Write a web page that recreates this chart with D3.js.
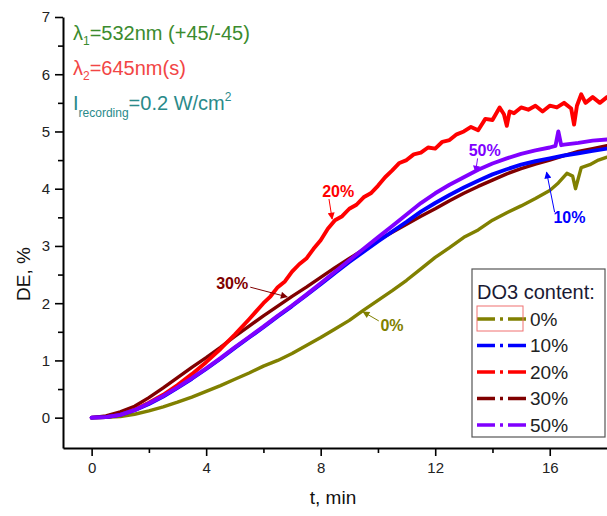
<!DOCTYPE html>
<html><head><meta charset="utf-8">
<script src="https://cdn.jsdelivr.net/npm/d3@7"></script>
<style>body{margin:0;background:#fff}svg{display:block;font-family:"Liberation Sans",Arial,sans-serif}</style>
</head><body><svg width="607" height="516"></svg>
<script>
// ---- data (t in min, DE in %) ----
const t0 = [0,0.5,1,1.5,2,2.5,3,3.5,4,4.5,5,5.5,6,6.5,7,7.5,8,8.5,9,9.5,10,10.5,11,11.5,12,12.5,13,13.5,14,14.5,15,15.5,16,16.3,16.6,16.8,16.9,17.1,17.4,17.7,18];
const de0 = [0,0.005,0.02,0.06,0.12,0.19,0.27,0.36,0.46,0.56,0.67,0.78,0.9,1.0,1.12,1.26,1.4,1.55,1.7,1.88,2.05,2.22,2.4,2.6,2.8,2.97,3.15,3.28,3.45,3.58,3.7,3.83,3.97,4.1,4.27,4.22,4.0,4.37,4.42,4.5,4.55];

const t10 = [0,0.5,1,1.5,2,2.5,3,3.5,4,4.5,5,5.5,6,6.5,7,7.5,8,8.5,9,9.5,10,10.5,11,11.5,12,12.5,13,13.5,14,14.5,15,15.5,16,16.5,17,17.5,18];
const de10 = [0,0.01,0.05,0.13,0.24,0.37,0.52,0.68,0.85,1.03,1.22,1.4,1.58,1.77,1.95,2.14,2.33,2.53,2.72,2.9,3.08,3.25,3.42,3.6,3.75,3.89,4.02,4.14,4.25,4.34,4.42,4.48,4.53,4.58,4.62,4.66,4.7];

const t20 = [0,0.5,1,1.5,2,2.5,3,3.5,4,4.5,5,5.5,6,6.25,6.5,6.75,7,7.25,7.5,7.75,8,8.25,8.5,8.75,9,9.25,9.5,9.75,10,10.25,10.5,10.75,11,11.25,11.5,11.75,12,12.25,12.5,12.75,13,13.25,13.5,13.75,14,14.25,14.4,14.5,14.6,14.75,15,15.25,15.5,15.75,16,16.25,16.5,16.75,16.85,16.95,17.1,17.25,17.5,17.75,18];
const de20 = [0,0.01,0.05,0.14,0.26,0.4,0.57,0.76,0.97,1.2,1.45,1.72,2.0,2.12,2.28,2.38,2.55,2.68,2.78,2.95,3.1,3.3,3.45,3.52,3.65,3.72,3.85,3.92,4.05,4.2,4.32,4.45,4.5,4.6,4.63,4.72,4.7,4.82,4.85,4.95,5.0,5.08,5.02,5.22,5.2,5.42,5.3,5.1,5.35,5.32,5.42,5.38,5.45,5.35,5.45,5.42,5.5,5.4,5.12,5.45,5.65,5.5,5.6,5.5,5.6];

const t30 = [0,0.5,1,1.5,2,2.5,3,3.5,4,4.5,5,5.5,6,6.5,7,7.5,8,8.5,9,9.5,10,10.5,11,11.5,12,12.5,13,13.5,14,14.5,15,15.5,16,16.5,17,17.5,18];
const de30 = [0,0.03,0.1,0.2,0.35,0.52,0.7,0.88,1.05,1.23,1.42,1.6,1.78,1.95,2.12,2.28,2.45,2.62,2.78,2.94,3.1,3.24,3.38,3.52,3.65,3.79,3.92,4.04,4.15,4.26,4.35,4.43,4.5,4.58,4.65,4.7,4.75];

const t50 = [0,0.5,1,1.5,2,2.5,3,3.5,4,4.5,5,5.5,6,6.5,7,7.5,8,8.5,9,9.5,10,10.5,11,11.5,12,12.5,13,13.5,14,14.5,15,15.5,16,16.2,16.3,16.4,16.5,17,17.5,18];
const de50 = [0,0.01,0.05,0.13,0.25,0.38,0.53,0.69,0.86,1.04,1.23,1.41,1.59,1.78,1.96,2.15,2.35,2.55,2.75,2.95,3.15,3.35,3.55,3.75,3.92,4.07,4.2,4.33,4.44,4.53,4.61,4.67,4.72,4.75,5.0,4.76,4.77,4.8,4.84,4.86];

const seriesNames = ["0%","10%","20%","30%","50%"];
const seriesColors = ["#808000","#0000ff","#ff0000","#800000","#8000ff"];
const xTicks = [0,4,8,12,16];
const xMinor = [2,6,10,14];
const yTicks = [0,1,2,3,4,5,6,7];
const yMinor = [0.5,1.5,2.5,3.5,4.5,5.5,6.5];

const series = [
  {name:"0%", t:t0, v:de0},
  {name:"10%", t:t10, v:de10},
  {name:"20%", t:t20, v:de20},
  {name:"30%", t:t30, v:de30},
  {name:"50%", t:t50, v:de50}
];
const drawOrder = ["0%","30%","20%","10%","50%"];

// annotations in data coords: label position, arrow start, arrow tip
const annots = [
  {text:"20%", color:"#ff0000", lt:8.61, lv:3.96, a:[8.29,3.82], b:[8.4,3.47]},
  {text:"30%", color:"#800000", lt:4.91, lv:2.35, a:[5.54,2.28], b:[6.83,2.11]},
  {text:"0%",  color:"#808000", lt:10.49, lv:1.62, a:[10.03,1.69], b:[9.48,1.85]},
  {text:"50%", color:"#8000ff", lt:13.73, lv:4.67, a:[13.48,4.53], b:[13.41,4.29]},
  {text:"10%", color:"#0000ff", lt:16.69, lv:3.5, a:[16.17,3.59], b:[15.89,4.29]}
];

const svg = d3.select("svg");
const x = d3.scaleLinear().domain([-1,18]).range([63,607]);
const y = d3.scaleLinear().domain([-0.53,7]).range([448,17]);

const colorOf = d3.scaleOrdinal().domain(seriesNames).range(seriesColors);

// defs
const defs = svg.append("defs");
defs.append("clipPath").attr("id","clip").append("rect")
  .attr("x",63).attr("y",0).attr("width",560).attr("height",448);
annots.forEach((a,i)=>{
  defs.append("marker").attr("id","ar"+i).attr("viewBox","0 0 10 10")
    .attr("refX",9).attr("refY",5).attr("markerWidth",9).attr("markerHeight",7)
    .attr("markerUnits","userSpaceOnUse").attr("orient","auto")
    .append("path").attr("d","M0,0L10,5L0,10z").attr("fill",a.color);
});

// curves
const line = d3.line().x(d=>x(d[0])).y(d=>y(d[1])).curve(d3.curveLinear);
const g = svg.append("g").attr("clip-path","url(#clip)");
drawOrder.forEach(n=>{
  const s = series.find(d=>d.name===n);
  const pts = s.t.map((tt,i)=>[tt,s.v[i]]);
  g.append("path").datum(pts).attr("d",line)
    .attr("fill","none").attr("stroke",colorOf(n))
    .attr("stroke-width", (n==="10%"||n==="50%"||n==="20%")?3.9:3.4).attr("stroke-linejoin","round").attr("stroke-linecap","round");
});

// axes
svg.append("g").attr("transform","translate(0,448)")
  .call(d3.axisBottom(x).tickValues(xTicks).tickSize(8).tickSizeOuter(0).tickPadding(6).tickFormat(d3.format("d")));
svg.append("g").attr("transform","translate(0,448)")
  .call(d3.axisBottom(x).tickValues(xMinor).tickSize(5).tickSizeOuter(0).tickFormat(""))
  .select(".domain").remove();
svg.append("g").attr("transform","translate(63,0)")
  .call(d3.axisLeft(y).tickValues(yTicks).tickSize(8).tickSizeOuter(0).tickPadding(5).tickFormat(d3.format("d")));
svg.append("g").attr("transform","translate(63,0)")
  .call(d3.axisLeft(y).tickValues(yMinor).tickSize(5).tickSizeOuter(0).tickFormat(""))
  .select(".domain").remove();
svg.selectAll(".domain").attr("stroke","#000").attr("stroke-width",2);
svg.selectAll(".tick line").attr("stroke","#000").attr("stroke-width",1.6);
svg.selectAll(".tick text").attr("font-size",15).attr("fill","#222").attr("font-family","'Liberation Sans',Arial,sans-serif");

// axis titles
svg.append("text").attr("x",333).attr("y",504).attr("text-anchor","middle")
  .attr("font-size",19).attr("fill","#111").text("t, min");
svg.append("text").attr("transform","translate(30,274) rotate(-90)").attr("text-anchor","middle")
  .attr("font-size",19).attr("fill","#111").text("DE, %");

// top-left info text
const info = svg.append("g").attr("font-size",20);
const l1 = info.append("text").attr("x",73).attr("y",40).attr("fill","#3b8b2e");
l1.append("tspan").text("λ");
l1.append("tspan").attr("font-size",12).attr("dy",5).text("1");
l1.append("tspan").attr("dy",-5).text("=532nm (+45/-45)");
const l2 = info.append("text").attr("x",73).attr("y",75).attr("fill","#f24545");
l2.append("tspan").text("λ");
l2.append("tspan").attr("font-size",12).attr("dy",5).text("2");
l2.append("tspan").attr("dy",-5).text("=645nm(s)");
const l3 = info.append("text").attr("x",73).attr("y",110).attr("fill","#2a8a8a");
l3.append("tspan").text("I");
l3.append("tspan").attr("font-size",12).attr("dy",7).text("recording");
l3.append("tspan").attr("dy",-7).text("=0.2 W/cm");
l3.append("tspan").attr("font-size",12).attr("dy",-9).text("2");

// annotations
annots.forEach((a,i)=>{
  svg.append("line").attr("x1",x(a.a[0])).attr("y1",y(a.a[1]))
    .attr("x2",x(a.b[0])).attr("y2",y(a.b[1]))
    .attr("stroke",a.color).attr("stroke-width",1).attr("marker-end","url(#ar"+i+")");
  svg.append("text").attr("x",x(a.lt)).attr("y",y(a.lv)).attr("dy","0.36em")
    .attr("text-anchor","middle").attr("font-size",16).attr("font-weight","bold")
    .attr("fill",a.color).text(a.text);
});

// legend
const lg = svg.append("g");
lg.append("rect").attr("x",472).attr("y",269).attr("width",133).attr("height",168)
  .attr("fill","#fff").attr("stroke","#555").attr("stroke-width",1.2);
lg.append("text").attr("x",477).attr("y",299).attr("font-size",20).attr("fill","#1a1a33").text("DO3 content:");
seriesNames.forEach((n,i)=>{
  const cy = 319 + i*26.5;
  lg.append("line").attr("x1",477).attr("x2",526).attr("y1",cy).attr("y2",cy)
    .attr("stroke",colorOf(n)).attr("stroke-width",3.5).attr("stroke-dasharray","18,5,3,5");
  lg.append("text").attr("x",530).attr("y",cy).attr("dy","0.36em").attr("font-size",19).attr("fill","#222").text(n);
});
lg.append("rect").attr("x",477).attr("y",306).attr("width",46).attr("height",25)
  .attr("fill","none").attr("stroke","#f07070").attr("stroke-width",1);
</script></body></html>
